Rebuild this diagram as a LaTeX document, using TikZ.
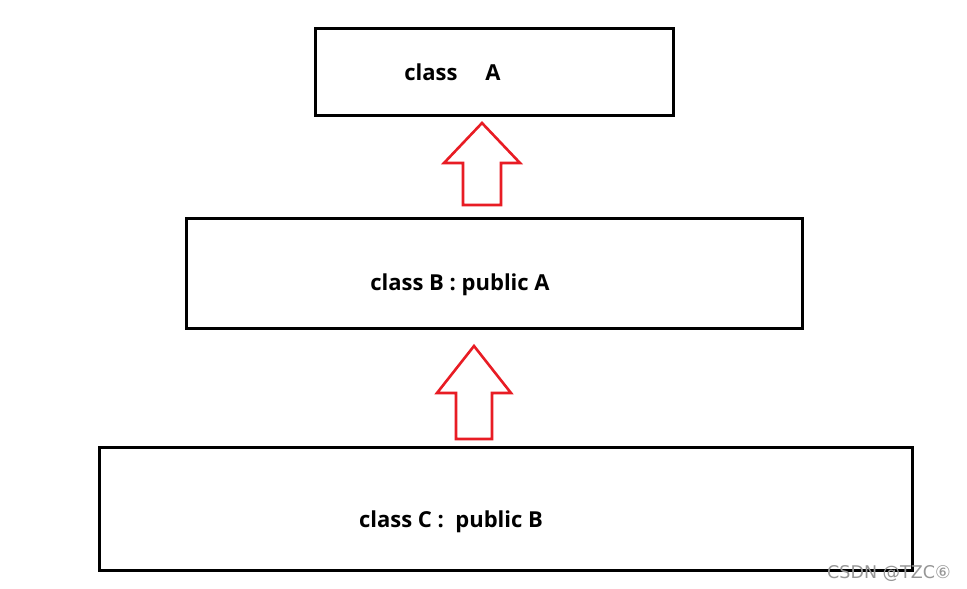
\documentclass[tikz,border=0pt]{standalone}
\usepackage{fontspec}
\setmainfont{Open Sans}
\newfontfamily\wmfont{DejaVu Sans}
\definecolor{arrred}{RGB}{232,28,36}
\definecolor{wmgray}{RGB}{150,150,150}
\begin{document}
\begin{tikzpicture}[x=1pt,y=-1pt,
  classbox/.style={draw=black,line width=3pt},
  blockarrow/.style={draw=arrred,line width=2.6pt,line join=miter},
  lbl/.style={font=\fontsize{22}{26}\selectfont\bfseries,inner sep=0pt,anchor=base}]
\useasboundingbox (0,0) rectangle (967,589);
\fill[white] (0,0) rectangle (967,589);
% boxes
\draw[classbox] (315,28) rectangle (673,115);
\draw[classbox] (186,218) rectangle (802,328);
\draw[classbox] (99,447) rectangle (912,570);
% arrows
\draw[blockarrow] (482,123) -- (520,163) -- (501,163) -- (501,205) -- (463,205) -- (463,163) -- (444,163) -- cycle;
\draw[blockarrow] (474,346) -- (511,393) -- (492,393) -- (492,439) -- (456,439) -- (456,393) -- (437,393) -- cycle;
% labels
\node[lbl] (la1) at (431,80) {class};
\node[lbl] (la2) at (493,80) {A};
\node[lbl] (lb) at (460,290) {class B : public A};
\node[lbl] (lc) at (451,527) {class C :\ \ public B};
\node[font=\wmfont\fontsize{17.5}{20}\selectfont,text=wmgray,inner sep=0pt,anchor=base] (wm) at (889,578) {CSDN @TZC⑥};
\end{tikzpicture}
\end{document}
